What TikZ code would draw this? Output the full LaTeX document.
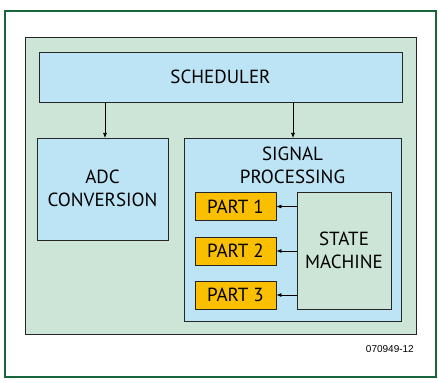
\documentclass[tikz,border=0pt]{standalone}
\usepackage{fontspec}
\setmainfont{PT Sans}
\newfontfamily\labfont{Liberation Sans}
\usetikzlibrary{arrows.meta}
\definecolor{frameg}{HTML}{17653A}
\definecolor{panelg}{HTML}{CDE5D7}
\definecolor{boxb}{HTML}{BDE4F5}
\definecolor{parto}{HTML}{FAC000}
\tikzset{
  x=1pt,y=-1pt,
  blk/.style={draw=black!85,line width=0.8pt},
  txt/.style={font=\fontsize{19}{23}\selectfont,align=center,inner sep=0pt},
  partbox/.style={blk,fill=parto,minimum width=81pt,minimum height=28pt,font=\fontsize{19}{23}\selectfont,inner sep=0pt},
  arr/.style={-{Latex[length=5pt,width=4pt]},line width=0.7pt}
}
\begin{document}
\begin{tikzpicture}
\useasboundingbox (0,0) rectangle (438,382);
\draw[frameg,line width=2.2pt,fill=white] (5,11) rectangle (436,377);
\draw[blk,fill=panelg] (25,37) rectangle (416,334);
\node[blk,fill=boxb,minimum width=363pt,minimum height=50pt,txt] (sched) at (220.5,77) {SCHEDULER};
\node[blk,fill=boxb,minimum width=131pt,minimum height=102pt,anchor=north west] (adc) at (37,138) {};
\node[txt] (adct) at (102.5,188) {ADC\\CONVERSION};
\node[blk,fill=boxb,minimum width=217pt,minimum height=183pt,anchor=north west] (sp) at (184,138) {};
\node[txt] (spt) at (292.5,165) {SIGNAL\\PROCESSING};
\node[partbox] (p1) at (235.5,206.5) {PART 1};
\node[partbox] (p2) at (235.5,251) {PART 2};
\node[partbox] (p3) at (235.5,295) {PART 3};
\node[blk,fill=panelg,minimum width=94pt,minimum height=117pt,anchor=north west] (sm) at (297,192) {};
\node[txt] (smt) at (344,250) {STATE\\MACHINE};
\draw[arr] (sched.south -| 105,0) -- (adc.north -| 105,0);
\draw[arr] (sched.south -| 293,0) -- (sp.north -| 293,0);
\draw[arr] (sm.west |- p1.east) -- (p1.east);
\draw[arr] (sm.west |- p2.east) -- (p2.east);
\draw[arr] (sm.west |- p3.east) -- (p3.east);
\node[font=\labfont\fontsize{10}{11}\selectfont,anchor=east,inner sep=0pt] (lab) at (414,349) {070949-12};
\end{tikzpicture}
\end{document}
